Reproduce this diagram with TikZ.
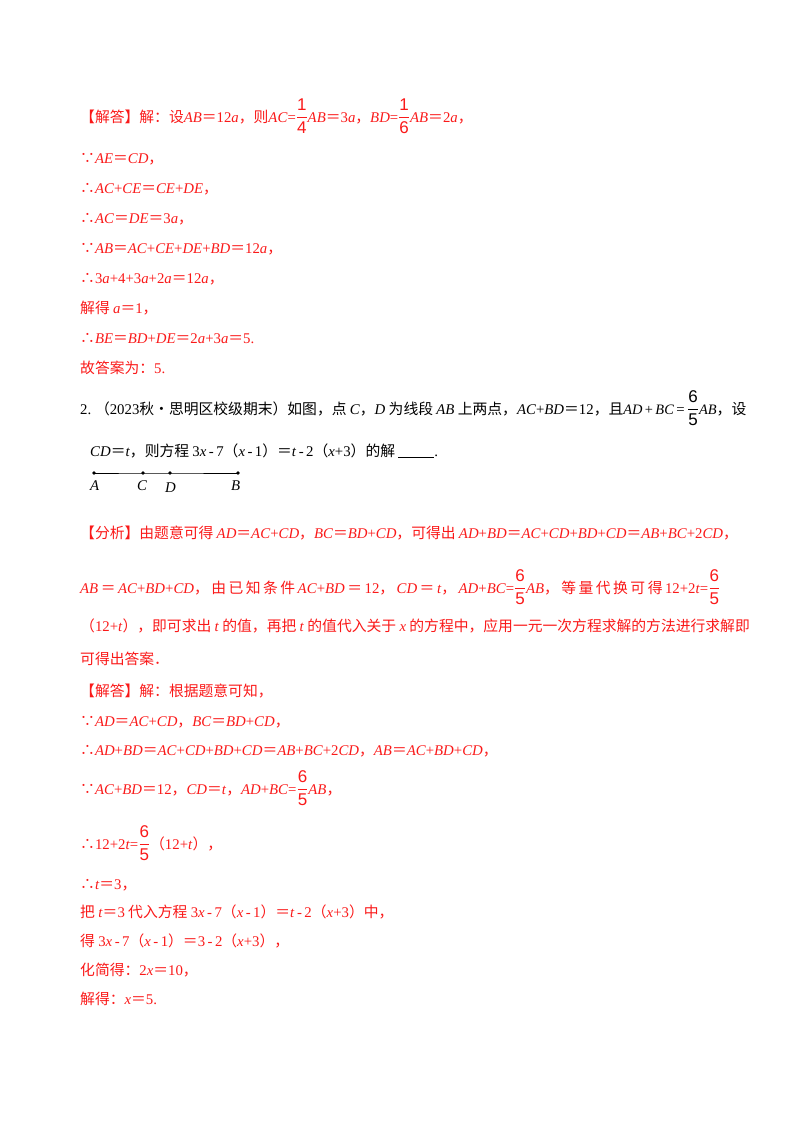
\documentclass[tikz,border=0pt]{standalone}
\usepackage{fontspec}
\setmainfont{Liberation Serif}
\newfontfamily\cjk{Noto Sans CJK SC}
\newfontfamily\frfont{Liberation Sans}
\newcommand\zh[1]{{\cjk #1}}
\newcommand\I[1]{\textit{#1}}
\newcommand\eq{\zh{＝}}
\newcommand\fr[2]{{\fontsize{17}{19}\selectfont$\displaystyle\frac{\hbox{\frfont #1}}{\hbox{\frfont #2}}$}}
\definecolor{ans}{RGB}{250,25,25}
\begin{document}
\begin{tikzpicture}[x=1pt,y=-1pt,
  ln/.style={anchor=base west,inner sep=0pt,font=\fontsize{14.8}{17}\selectfont},
  rl/.style={ln,text=ans},
  pt/.style={circle,fill,inner sep=1.4pt}]
\useasboundingbox (0,0) rectangle (800,1132);
\node[rl] (l1) at (80,122) {\zh{【解答】解：设}\I{AB}\eq12\I{a}\zh{，则}\I{AC}=\fr14\I{AB}\eq3\I{a}\zh{，}\I{BD}=\fr16\I{AB}\eq2\I{a}\zh{，}};
\node[rl] (l2) at (80,163) {\zh{∵}\I{AE}\eq\I{CD}\zh{，}};
\node[rl] (l3) at (80,193) {\zh{∴}\I{AC}+\I{CE}\eq\I{CE}+\I{DE}\zh{，}};
\node[rl] (l4) at (80,223) {\zh{∴}\I{AC}\eq\I{DE}\eq3\I{a}\zh{，}};
\node[rl] (l5) at (80,253) {\zh{∵}\I{AB}\eq\I{AC}+\I{CE}+\I{DE}+\I{BD}\eq12\I{a}\zh{，}};
\node[rl] (l6) at (80,283) {\zh{∴}3\I{a}+4+3\I{a}+2\I{a}\eq12\I{a}\zh{，}};
\node[rl] (l7) at (80,313) {\zh{解得 }\I{a}\eq1\zh{，}};
\node[rl] (l8) at (80,343) {\zh{∴}\I{BE}\eq\I{BD}+\I{DE}\eq2\I{a}+3\I{a}\eq5.};
\node[rl] (l9) at (80,373) {\zh{故答案为：}5.};
\node[ln] (q1) at (80,414) {2.\ \zh{（}2023\zh{秋•思明区校级期末）如图，点 }\I{C}\zh{，}\I{D}\zh{ 为线段 }\I{AB}\zh{ 上两点，}\I{AC}+\I{BD}\eq12\zh{，且}{\Large\I{AD}\,+\,\I{BC}}\,=\,\fr65{\Large\I{AB}}\zh{，设}};
\node[ln] (q2) at (90,456) {\I{CD}\eq\I{t}\zh{，则方程 }3\I{x}\,-\,7\zh{（}\I{x}\,-\,1\zh{）}\eq\I{t}\,-\,2\zh{（}\I{x}+3\zh{）的解 }\underline{\hspace{36pt}}.};
\node[pt] (A) at (94,473) {};
\node[pt] (C) at (143,473) {};
\node[pt] (D) at (170,473) {};
\node[pt] (B) at (238,473) {};
\draw[line width=1pt] (A.center) -- (C.center) -- (D.center) -- (B.center);
\node[ln] (la) at (90,490) {\I{A}};
\node[ln] (lc) at (137,490) {\I{C}};
\node[ln] (ld) at (165,492) {\I{D}};
\node[ln] (lb) at (231,490) {\I{B}};
\node[rl] (a1) at (80,538) {\zh{【分析】由题意可得 }\I{AD}\eq\I{AC}+\I{CD}\zh{，}\I{BC}\eq\I{BD}+\I{CD}\zh{，可得出 }\I{AD}+\I{BD}\eq\I{AC}+\I{CD}+\I{BD}+\I{CD}\eq\I{AB}+\I{BC}+2\I{CD}\zh{，}};
\node[rl] (a2) at (80,593) {\hbox to 640pt{\I{AB}\hfill\eq\hfill\I{AC}+\I{BD}+\I{CD}\zh{，}\hfill\zh{由}\hfill\zh{已}\hfill\zh{知}\hfill\zh{条}\hfill\zh{件}\hfill\I{AC}+\I{BD}\hfill\eq\hfill12\zh{，}\hfill\I{CD}\hfill\eq\hfill\I{t}\zh{，}\hfill\I{AD}+\I{BC}=\fr65\I{AB}\zh{，}\hfill\zh{等}\hfill\zh{量}\hfill\zh{代}\hfill\zh{换}\hfill\zh{可}\hfill\zh{得}\hfill12+2\I{t}=\fr65}};
\node[rl] (a3) at (80,631) {\zh{（}12+\I{t}\zh{），即可求出 }\I{t}\zh{ 的值，再把 }\I{t}\zh{ 的值代入关于 }\I{x}\zh{ 的方程中，应用一元一次方程求解的方法进行求解即}};
\node[rl] (a4) at (80,664) {\zh{可得出答案．}};
\node[rl] (s1) at (80,696) {\zh{【解答】解：根据题意可知，}};
\node[rl] (s2) at (80,726) {\zh{∵}\I{AD}\eq\I{AC}+\I{CD}\zh{，}\I{BC}\eq\I{BD}+\I{CD}\zh{，}};
\node[rl] (s3) at (80,755) {\zh{∴}\I{AD}+\I{BD}\eq\I{AC}+\I{CD}+\I{BD}+\I{CD}\eq\I{AB}+\I{BC}+2\I{CD}\zh{，}\I{AB}\eq\I{AC}+\I{BD}+\I{CD}\zh{，}};
\node[rl] (s4) at (80,794) {\zh{∵}\I{AC}+\I{BD}\eq12\zh{，}\I{CD}\eq\I{t}\zh{，}\I{AD}+\I{BC}=\fr65\I{AB}\zh{，}};
\node[rl] (s5) at (80,849) {\zh{∴}12+2\I{t}=\fr65\zh{（}12+\I{t}\zh{），}};
\node[rl] (s6) at (80,889) {\zh{∴}\I{t}\eq3\zh{，}};
\node[rl] (s7) at (80,917) {\zh{把 }\I{t}\eq3\zh{ 代入方程 }3\I{x}\,-\,7\zh{（}\I{x}\,-\,1\zh{）}\eq\I{t}\,-\,2\zh{（}\I{x}+3\zh{）中，}};
\node[rl] (s8) at (80,946) {\zh{得 }3\I{x}\,-\,7\zh{（}\I{x}\,-\,1\zh{）}\eq3\,-\,2\zh{（}\I{x}+3\zh{），}};
\node[rl] (s9) at (80,975) {\zh{化简得：}2\I{x}\eq10\zh{，}};
\node[rl] (s10) at (80,1004) {\zh{解得：}\I{x}\eq5.};
\end{tikzpicture}
\end{document}
